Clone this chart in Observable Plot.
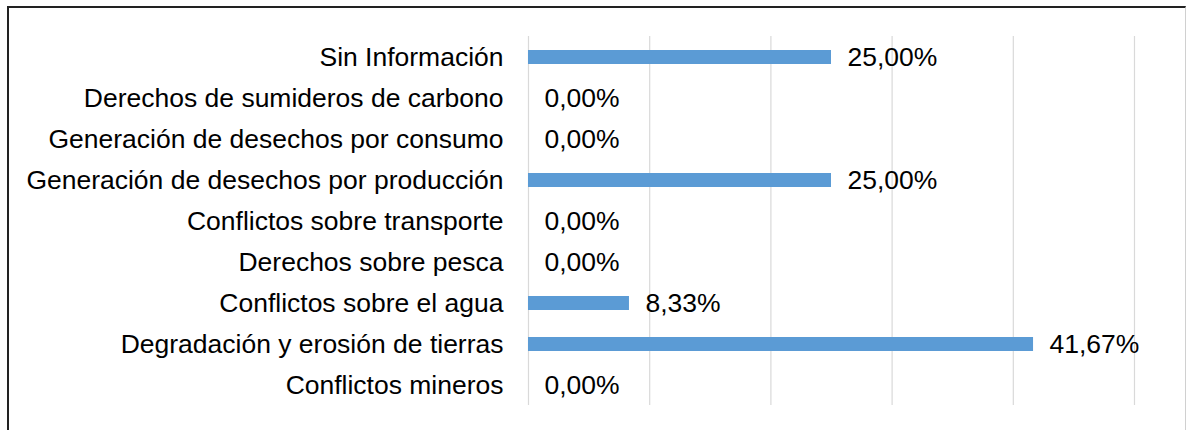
<!DOCTYPE html>
<html>
<head>
<meta charset="utf-8">
<script src="https://cdn.jsdelivr.net/npm/d3@7"></script>
<script src="https://cdn.jsdelivr.net/npm/@observablehq/plot@0.6"></script>
<style>
  html, body { margin: 0; padding: 0; background: #fff; }
  #wrap { position: relative; width: 1186px; height: 430px; overflow: hidden; }
  #frame { position: absolute; left: 7px; top: 6px; width: 1176px; height: 440px;
           border-top: 2px solid #222; border-left: 2px solid #222; border-right: 1px solid #d0d0d0; pointer-events: none; }
  #chart { position: absolute; left: 0; top: 0; }
</style>
</head>
<body>
<div id="wrap">
  <div id="chart"></div>
  <div id="frame"></div>
</div>
<script>
const categories = [
  "Sin Información",
  "Derechos de sumideros de carbono",
  "Generación de desechos por consumo",
  "Generación de desechos por producción",
  "Conflictos sobre transporte",
  "Derechos sobre pesca",
  "Conflictos sobre el agua",
  "Degradación y erosión de tierras",
  "Conflictos mineros"
];
const values = [25.00, 0.00, 0.00, 25.00, 0.00, 0.00, 8.33, 41.67, 0.00];
const gridTicks = [0, 10, 20, 30, 40, 50];

const data = categories.map((c, i) => ({category: c, value: values[i]}));
const fmt = v => v.toFixed(2).replace(".", ",") + "%";

const chart = Plot.plot({
  width: 1186,
  height: 430,
  marginLeft: 528,
  marginRight: 52,
  marginTop: 36,
  marginBottom: 25,
  style: {fontFamily: "'Liberation Sans', Arial, sans-serif", fontSize: "25px", color: "#000", background: "transparent"},
  x: {domain: [0, 50], axis: null},
  y: {domain: categories, paddingInner: 0.66, paddingOuter: 0.33, label: null, axis: null},
  marks: [
    Plot.ruleX(gridTicks, {stroke: "#d9d9d9", strokeWidth: 1.2, strokeOpacity: 1}),
    Plot.barX(data, {x: "value", y: "category", fill: "#5b9bd5"}),
    Plot.text(data, {x: "value", y: "category", text: d => fmt(d.value), textAnchor: "start", dx: 16, fill: "#000", fontSize: 25}),
    Plot.axisY({tickSize: 0, tickPadding: 25, label: null, fontSize: 25, fill: "#000"})
  ]
});
document.getElementById("chart").appendChild(chart);

// The reference's text is slightly horizontally stretched; reproduce it around each text's anchor.
d3.select(chart).selectAll("text").each(function() {
  const t = this.getAttribute("transform") || "";
  this.setAttribute("transform", (t + " scale(1.06,1)").trim());
});
</script>
</body>
</html>
